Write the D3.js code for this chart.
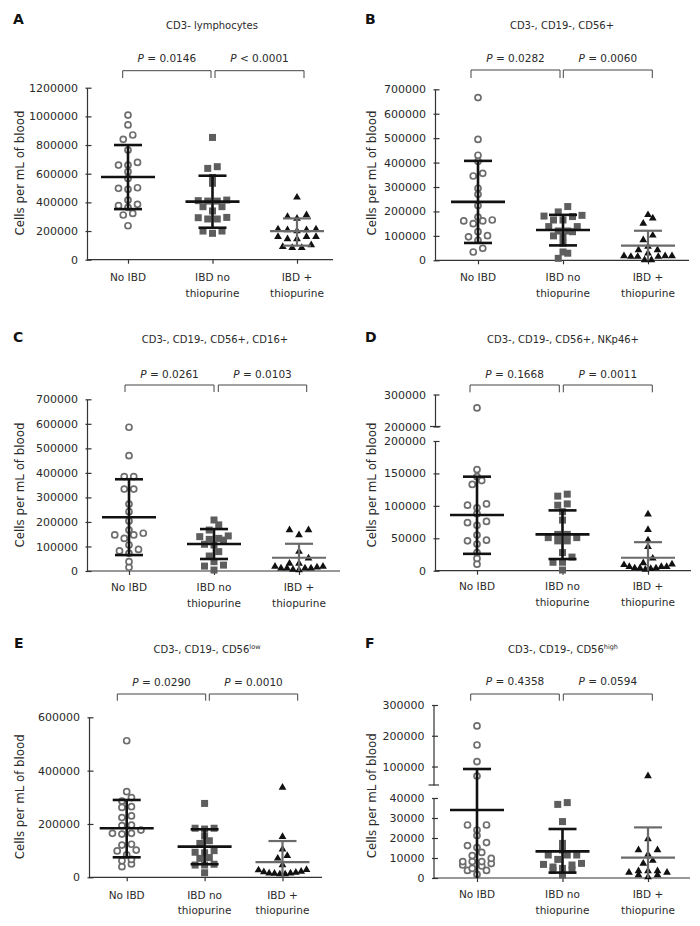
<!DOCTYPE html>
<html><head><meta charset="utf-8">
<script src="https://cdn.jsdelivr.net/npm/d3@7"></script>
<style>
body{margin:0;background:#fff}
svg{display:block}
text{font-family:"DejaVu Sans",Verdana,sans-serif;fill:#2a2a2a}
</style></head>
<body><svg id="c" width="700" height="926"></svg>
<script>
// ---------- DATA ----------
const catLine1 = ["No IBD","IBD no","IBD +"];
const catLine2 = ["","thiopurine","thiopurine"];
const panelLetters = ["A","B","C","D","E","F"];
const titleMain = ["CD3- lymphocytes","CD3-, CD19-, CD56+","CD3-, CD19-, CD56+, CD16+","CD3-, CD19-, CD56+, NKp46+","CD3-, CD19-, CD56","CD3-, CD19-, CD56"];
const titleSup = ["","","","","low","high"];
const pLeft = ["= 0.0146","= 0.0282","= 0.0261","= 0.1668","= 0.0290","= 0.4358"];
const pRight = ["< 0.0001","= 0.0060","= 0.0103","= 0.0011","= 0.0010","= 0.0594"];
const yLabelText = "Cells per mL of blood";

const ticksA = [0,200000,400000,600000,800000,1000000,1200000];
const ticksB = [0,100000,200000,300000,400000,500000,600000,700000];
const ticksC = [0,100000,200000,300000,400000,500000,600000,700000];
const ticksDLow = [0,50000,100000,150000,200000];
const ticksDHigh = [200000,300000];
const ticksE = [0,200000,400000,600000];
const ticksFLow = [0,10000,20000,30000,40000];
const ticksFHigh = [100000,200000,300000];

const aNoIBD = [1009000,940000,870000,840000,765000,660000,660000,679000,614000,567000,498000,491000,502000,416000,377000,365000,386000,323000,312000,237000];
const aIBDno = [853000,637000,649000,574000,533000,409000,409000,412000,416000,370000,370000,340000,295000,284000,284000,293000,200000,184000,200000];
const aIBDthio = [435000,312000,288000,300000,212000,200000,207000,207000,212000,144000,160000,160000,160000,144000,91000,84000,84000,102000];
const aMean = [577000,405000,200000], aUpper = [800000,586000,288000], aLower = [353000,223000,98000];

const bNoIBD = [666000,495000,430000,405000,356000,345000,295000,270000,224000,177000,161000,150000,161000,165000,117000,96000,82000,101000,49000,34000];
const bIBDno = [220000,198000,179000,181000,184000,165000,165000,138000,138000,117000,120000,120000,100000,96000,70000,34000,29000,8000];
const bIBDthio = [186000,151000,172000,102000,83000,56000,42000,42000,29000,18000,18000,15000,15000,15000,18000,1000,1000];
const bMean = [239000,124000,60000], bUpper = [407000,186000,121000], bLower = [71000,61000,0];

const cNoIBD = [586000,470000,385000,385000,334000,334000,273000,242000,204000,167000,147000,147000,154000,133000,106000,82000,72000,88000,38000,15000];
const cIBDno = [208000,188000,167000,143000,129000,133000,140000,126000,106000,109000,79000,61000,38000,24000,20000,4000];
const cIBDthio = [167000,147000,167000,79000,52000,31000,31000,18000,18000,11000,11000,11000,11000,15000,6000,4000];
const cMean = [219000,110000,54000], cUpper = [374000,171000,111000], cLower = [65000,49000,0];

const dNoIBD = [258000,156000,145000,139000,133000,101000,103000,97000,88000,74000,70000,76000,55000,47000,46000,41000,28000,19000,10000];
const dIBDno = [115000,118000,101000,103000,91000,78000,56000,51000,46000,46000,51000,56000,28000,21000,13000,13000,1000];
const dIBDthio = [87000,63000,47000,37000,19000,12000,9000,6000,4000,4000,4000,6000,6000,10000,3000,2000];
const dMean = [86000,56000,20000], dUpper = [145000,93000,44000], dLower = [26000,18000,0];

const eNoIBD = [512000,321000,299000,286000,265000,262000,230000,224000,194000,196000,165000,165000,162000,177000,121000,124000,99000,102000,84000,62000,67000,50000,40000];
const eIBDno = [277000,184000,181000,184000,155000,137000,127000,100000,92000,94000,71000,74000,46000,49000,46000,17000];
const eIBDthio = [337000,152000,105000,81000,71000,46000,27000,22000,18000,14000,12000,12000,15000,15000,20000,28000];
const eMean = [184000,115000,57000], eUpper = [290000,180000,136000], eLower = [75000,49000,0];

const fNoIBD = [232000,170000,116000,69000,26500,26500,24000,21200,16200,17700,12800,11200,15200,9800,8200,8200,7200,8200,6000,3800,3800,4800,6500,1800];
const fIBDno = [36800,37700,28200,17300,11500,11500,11500,14000,9300,6800,4800,4000,3800,6500,7300,5500,1500];
const fIBDthio = [69000,19500,14000,14000,11800,7300,8700,3500,3500,2800,2800,3500,1500,1500,500];
const fMean = [34000,13300,10200], fUpper = [92000,24500,25300], fLower = [0,2700,0];

// ---------- LAYOUT ----------
const panels = [
 {groups:[aNoIBD,aIBDno,aIBDthio], mean:aMean, up:aUpper, lo:aLower,
  axisX:87, xEnd:333, xAxisY:259.7, cats:[128,297], label:[13,24], title:[212,29], pY:62, brTop:70.7, brBot:78,
  brackets:[[122.7,211],[215,304]], xLab:[281,297], yLab:[20,173],
  segs:[{domain:[0,1200000], range:[259.7,87.7], ticks:ticksA}]},
 {groups:[bNoIBD,bIBDno,bIBDthio], mean:bMean, up:bUpper, lo:bLower,
  axisX:435, xEnd:689, xAxisY:260.3, cats:[478,648], label:[365,24], title:[562,29], pY:62, brTop:70, brBot:78,
  brackets:[[471,560],[563.3,652.3]], xLab:[281,297], yLab:[371.7,173],
  segs:[{domain:[0,700000], range:[260.3,89.3], ticks:ticksB}]},
 {groups:[cNoIBD,cIBDno,cIBDthio], mean:cMean, up:cUpper, lo:cLower,
  axisX:87, xEnd:340, xAxisY:571, cats:[129,299], label:[13,342], title:[215,342.5], pY:377.5, brTop:385, brBot:392,
  brackets:[[125,214],[218.3,306.7]], xLab:[591,607], yLab:[20,485],
  segs:[{domain:[0,700000], range:[571,399.3], ticks:ticksC}]},
 {groups:[dNoIBD,dIBDno,dIBDthio], mean:dMean, up:dUpper, lo:dLower,
  axisX:435, xEnd:691, xAxisY:570.7, cats:[477,648], label:[365,342], title:[563,342.5], pY:377.5, brTop:385, brBot:392.3,
  brackets:[[470,559.3],[563.3,652.3]], xLab:[590,606], yLab:[371.7,485], brk:200000,
  segs:[{domain:[0,200000], range:[570.7,441], ticks:ticksDLow},
        {domain:[200000,300000], range:[426.5,394.5], ticks:ticksDHigh, endTick:true}]},
 {groups:[eNoIBD,eIBDno,eIBDthio], mean:eMean, up:eUpper, lo:eLower,
  axisX:89, xEnd:322, xAxisY:877.3, cats:[126.7,282.5], label:[14,648.3], title:[207,652.5], pY:686, brTop:694, brBot:700.7,
  brackets:[[117.3,205.7],[209.3,297.7]], xLab:[898.5,914], yLab:[20,796.7],
  segs:[{domain:[0,600000], range:[877.3,717.3], ticks:ticksE}]},
 {groups:[fNoIBD,fIBDno,fIBDthio], mean:fMean, up:fUpper, lo:fLower,
  axisX:433.5, xEnd:690, xAxisY:878, cats:[477,648], label:[365,648.3], title:[563,652.5], pY:685, brTop:694, brBot:700.7,
  brackets:[[470.7,559.3],[563.3,652.3]], xLab:[897.5,914], yLab:[371.7,795.7], brk:40000,
  segs:[{domain:[0,40000], range:[878,798], ticks:ticksFLow},
        {domain:[40000,300000], range:[785,705], ticks:ticksFHigh, endTick:true}]}
];

const svg = d3.select("#c");
const AX = "#333";

// Prism-like row layout: points close in y share a row, spread symmetrically (lowest point in the middle)
function rowLayout(vals, yFn, cx){
  const rowH = 5.5, maxSp = 9.5, halfW = 24;
  const pts = vals.map(v=>({v:v, y:yFn(v)})).sort((a,b)=>b.y-a.y);
  const rows = []; let cur = null;
  pts.forEach(p=>{
    if(cur && cur.y0 - p.y < rowH) cur.items.push(p);
    else { cur = {y0:p.y, items:[p]}; rows.push(cur); }
  });
  const out = [];
  rows.forEach(r=>{
    const n = r.items.length;
    const sp = n>1 ? Math.min(maxSp, 2*halfW/(n-1)) : 0;
    const slots = d3.range(n).map(i=>(i-(n-1)/2)*sp)
      .sort((a,b)=>Math.abs(a)-Math.abs(b) || a-b);
    r.items.forEach((p,i)=>out.push({x:cx+slots[i], y:p.y, v:p.v}));
  });
  return out;
}

panels.forEach((P,pi)=>{
  const g = svg.append("g");
  const segScales = P.segs.map(s=>d3.scaleLinear().domain(s.domain).range(s.range));
  const yFn = P.segs.length===1 ? segScales[0] : (v => v>=P.brk ? segScales[1](v) : segScales[0](v));
  const x = d3.scalePoint().domain(catLine1).range(P.cats);

  g.append("text").attr("x",P.label[0]).attr("y",P.label[1]).attr("font-size",14).attr("font-weight","bold")
    .style("fill","#111").text(panelLetters[pi]);
  const t = g.append("text").attr("x",P.title[0]).attr("y",P.title[1]).attr("text-anchor","middle").attr("font-size",10);
  t.append("tspan").text(titleMain[pi]);
  if(titleSup[pi]) t.append("tspan").attr("font-size",6.5).attr("dy",-4).text(titleSup[pi]);

  [pLeft[pi],pRight[pi]].forEach((ptxt,bi)=>{
    const [x1,x2] = P.brackets[bi];
    g.append("path").attr("d",`M${x1},${P.brBot}V${P.brTop}H${x2}V${P.brBot}`)
      .attr("fill","none").attr("stroke","#444").attr("stroke-width",1);
    const pt = g.append("text").attr("x",(x1+x2)/2).attr("y",P.pY).attr("text-anchor","middle").attr("font-size",10.5);
    pt.append("tspan").attr("font-style","italic").text("P");
    pt.append("tspan").text(" "+ptxt);
  });

  P.segs.forEach((s,si)=>{
    const ax = d3.axisLeft(segScales[si]).tickValues(s.ticks).tickSizeInner(-4.5).tickSizeOuter(0).tickPadding(9)
      .tickFormat(d3.format("d"));
    const ag = g.append("g").attr("transform",`translate(${P.axisX},0)`).call(ax);
    ag.select(".domain").attr("stroke",AX).attr("stroke-width",1.2);
    ag.selectAll(".tick line").attr("stroke",AX).attr("stroke-width",1.2).attr("x1",-1.5);
    ag.selectAll(".tick text").attr("font-size",11).attr("font-family","'DejaVu Sans',Verdana,sans-serif").style("fill","#2a2a2a");
    if(s.endTick){
      const yb = s.range[0];
      ag.append("line").attr("x1",-5).attr("x2",5.5).attr("y1",yb).attr("y2",yb).attr("stroke",AX).attr("stroke-width",1.2);
    }
  });

  const xa = d3.axisBottom(x).tickSize(4).tickSizeOuter(0).tickFormat("");
  const xg = g.append("g").attr("transform",`translate(0,${P.xAxisY})`).call(xa);
  xg.select(".domain").remove();
  xg.selectAll(".tick line").attr("stroke",AX).attr("stroke-width",1.2);
  g.append("line").attr("x1",P.axisX).attr("x2",P.xEnd).attr("y1",P.xAxisY).attr("y2",P.xAxisY)
    .attr("stroke",AX).attr("stroke-width",1.2);
  catLine1.forEach((c,ci)=>{
    g.append("text").attr("x",x(c)).attr("y",P.xLab[0]).attr("text-anchor","middle").attr("font-size",10.5).text(c);
    if(catLine2[ci]) g.append("text").attr("x",x(c)).attr("y",P.xLab[1]).attr("text-anchor","middle").attr("font-size",10.5).text(catLine2[ci]);
  });

  g.append("text").attr("transform",`translate(${P.yLab[0]},${P.yLab[1]}) rotate(-90)`).attr("dy","0.35em")
    .attr("text-anchor","middle").attr("font-size",11.8).text(yLabelText);

  P.groups.forEach((vals,gi)=>{
    const cx = x(catLine1[gi]);
    const pts = rowLayout(vals,yFn,cx);
    if(gi===0){
      g.selectAll(null).data(pts).enter().append("circle").attr("cx",d=>d.x).attr("cy",d=>d.y).attr("r",3)
        .attr("fill","#fff").attr("stroke","#6e6e6e").attr("stroke-width",1.7);
    } else if(gi===1){
      g.selectAll(null).data(pts).enter().append("rect").attr("x",d=>d.x-3.5).attr("y",d=>d.y-3.5)
        .attr("width",7).attr("height",7).attr("fill","#5e5e5e");
    } else {
      g.selectAll(null).data(pts).enter().append("path").attr("d",d3.symbol(d3.symbolTriangle,26))
        .attr("transform",d=>`translate(${d.x},${d.y})`).attr("fill","#111");
    }
  });

  P.groups.forEach((vals,gi)=>{
    const cx = x(catLine1[gi]);
    const col = gi<2 ? "#111" : "#6a6a6a";
    const w = gi<2 ? 2.6 : 2.2;
    const bg = g.append("g").attr("stroke",col).attr("stroke-width",w);
    const ym = yFn(P.mean[gi]), yu = yFn(P.up[gi]), yl = yFn(P.lo[gi]);
    bg.append("line").attr("x1",cx).attr("x2",cx).attr("y1",yu).attr("y2",yl);
    bg.append("line").attr("x1",cx-27).attr("x2",cx+27).attr("y1",ym).attr("y2",ym);
    bg.append("line").attr("x1",cx-14).attr("x2",cx+14).attr("y1",yu).attr("y2",yu);
    if(P.lo[gi]>0) bg.append("line").attr("x1",cx-14).attr("x2",cx+14).attr("y1",yl).attr("y2",yl);
  });
});
</script></body></html>
